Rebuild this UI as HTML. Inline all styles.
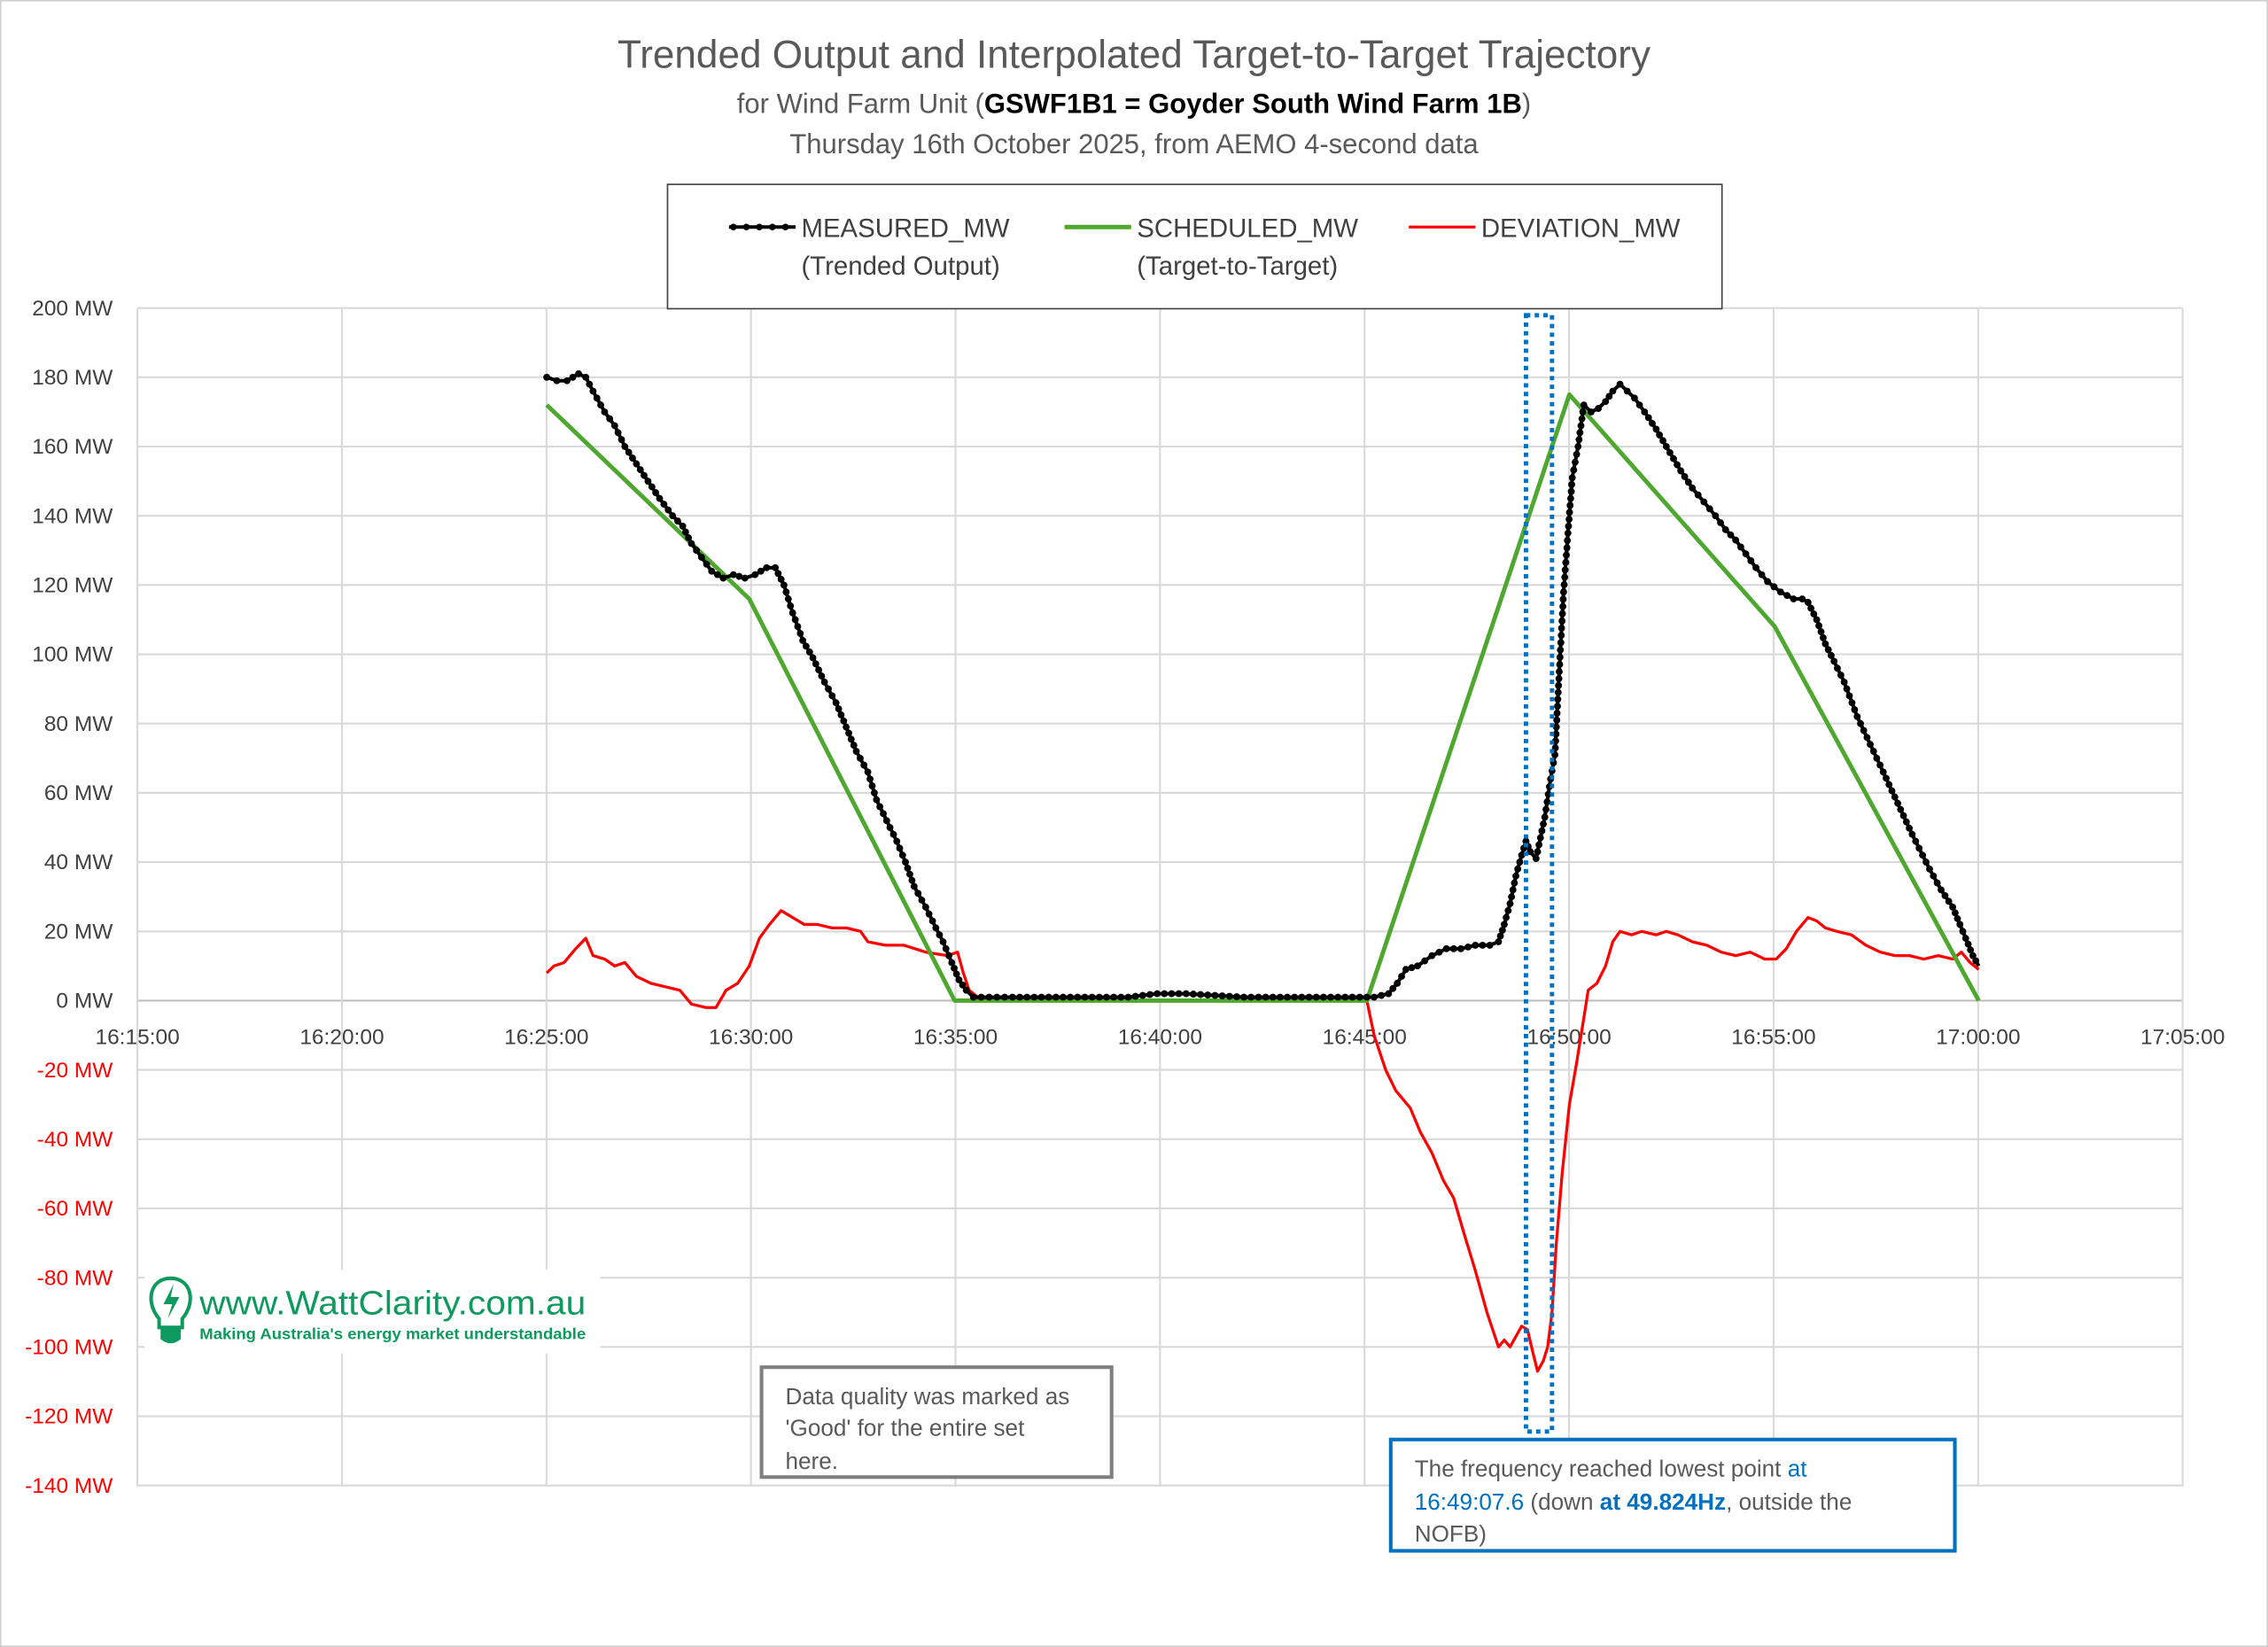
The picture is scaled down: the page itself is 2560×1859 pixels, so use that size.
<!DOCTYPE html>
<html><head><meta charset="utf-8"><style>
html,body{margin:0;padding:0;background:#fff}
svg{display:block}
text{font-family:"Liberation Sans",sans-serif}
</style></head><body>
<svg id="s" width="2560" height="1859" viewBox="0 0 1568 1139" preserveAspectRatio="none" xmlns="http://www.w3.org/2000/svg">
<rect x="0.5" y="0.5" width="1567" height="1138" fill="#fff" stroke="#d0d0d0" stroke-width="1"/>
<g id="grid" stroke="#d9d9d9" stroke-width="1.3"></g>
<g id="labels" font-size="15" fill="#404040"></g>
<text x="784" y="47" text-anchor="middle" font-size="27" fill="#595959">Trended Output and Interpolated Target-to-Target Trajectory</text>
<text x="784" y="78" text-anchor="middle" font-size="19" fill="#595959">for Wind Farm Unit (<tspan font-weight="bold" fill="#000">GSWF1B1 = Goyder South Wind Farm 1B</tspan>)</text>
<text x="784" y="106" text-anchor="middle" font-size="19" fill="#595959">Thursday 16th October 2025, from AEMO 4-second data</text>
<rect x="461.5" y="127.5" width="729" height="86" fill="#fff" stroke="#404040" stroke-width="1"/>
<line x1="504" y1="157" x2="550" y2="157" stroke="#000" stroke-width="2.5"/>
<circle cx="507" cy="157" r="2.3"/><circle cx="516" cy="157" r="2.3"/><circle cx="525" cy="157" r="2.3"/><circle cx="534" cy="157" r="2.3"/><circle cx="543" cy="157" r="2.3"/>
<text x="554" y="164" font-size="18" fill="#404040">MEASURED_MW</text>
<text x="554" y="190" font-size="18" fill="#404040">(Trended Output)</text>
<line x1="736" y1="157" x2="782" y2="157" stroke="#4ea72e" stroke-width="3"/>
<text x="786" y="164" font-size="18" fill="#404040">SCHEDULED_MW</text>
<text x="786" y="190" font-size="18" fill="#404040">(Target-to-Target)</text>
<line x1="974" y1="157" x2="1020" y2="157" stroke="#f00" stroke-width="2"/>
<text x="1024" y="164" font-size="18" fill="#404040">DEVIATION_MW</text>
<rect x="100" y="878" width="315" height="58" fill="#fff"/>
<g fill="none" stroke="#0e9a5e" stroke-width="2.5">
<path d="M110 912 C100 900,104 884,118 884 C132 884,136 900,126 912 L126 918 L110 918 Z"/>
</g>
<path d="M111 918 L125 918 L125 926 Q118 932 111 926 Z" fill="#0e9a5e"/>
<path d="M120 888 L113 902 L119 902 L116 912 L124 897 L118 897 Z" fill="#0e9a5e"/>
<text x="138" y="909" font-size="23" fill="#0e9a5e" textLength="267" lengthAdjust="spacingAndGlyphs">www.WattClarity.com.au</text>
<text x="138" y="926" font-size="11" font-weight="bold" fill="#0e9a5e" textLength="267" lengthAdjust="spacingAndGlyphs">Making Australia's energy market understandable</text>
<g id="series"></g>
<rect x="1055" y="218" width="18" height="772" fill="none" stroke="#0070c0" stroke-width="3" stroke-dasharray="3,3"/>
<rect x="526.5" y="945.5" width="242" height="76" fill="#fff" stroke="#7f7f7f" stroke-width="2.5"/>
<text font-size="16" fill="#595959"><tspan x="543" y="971">Data quality was marked as</tspan><tspan x="543" y="993">'Good' for the entire set</tspan><tspan x="543" y="1016">here.</tspan></text>
<rect x="961.5" y="995.5" width="390" height="77" fill="#fff" stroke="#0070c0" stroke-width="2.5"/>
<text font-size="16" fill="#595959"><tspan x="978" y="1021">The frequency reached lowest point <tspan fill="#0070c0">at</tspan></tspan><tspan x="978" y="1044"><tspan fill="#0070c0">16:49:07.6</tspan> (down <tspan fill="#0070c0" font-weight="bold">at 49.824Hz</tspan>, outside the</tspan><tspan x="978" y="1066">NOFB)</tspan></text>
</svg>
<script>
const NS="http://www.w3.org/2000/svg";
const X=m=>95+m*28.28, Y=v=>692-v*2.395;
const g=document.getElementById('grid'),lb=document.getElementById('labels'),se=document.getElementById('series');
function el(p,t,a,txt){const e=document.createElementNS(NS,t);for(const k in a)e.setAttribute(k,a[k]);if(txt!=null)e.textContent=txt;p.appendChild(e);return e;}
for(let v=-140;v<=200;v+=20){el(g,'line',{x1:95,x2:1509,y1:Y(v),y2:Y(v),stroke:v==0?'#bfbfbf':'#d9d9d9'});
 el(lb,'text',{x:78,y:Y(v)+5,'text-anchor':'end',fill:v<0?'#ff0000':'#404040'},v+' MW');}
const tl=['16:15:00','16:20:00','16:25:00','16:30:00','16:35:00','16:40:00','16:45:00','16:50:00','16:55:00','17:00:00','17:05:00'];
tl.forEach((t,i)=>{el(g,'line',{x1:X(i*5),x2:X(i*5),y1:213,y2:1028});el(lb,'text',{x:X(i*5),y:722,'text-anchor':'middle'},t);});
function path(pts,attrs){el(se,'polyline',Object.assign({points:pts.map(p=>p[0]+','+Y(p[1])).join(' '),fill:'none','stroke-linejoin':'round'},attrs));}
const dev=[[378,8],[383,10],[390,11],[398,15],[405,18],[410,13],[418,12],[425,10],[432,11],[440,7],[450,5],[460,4],[470,3],[478,-1],[488,-2],[495,-2],[502,3],[510,5],[518,10],[525,18],[532,22],[540,26],[548,24],[556,22],[565,22],[575,21],[585,21],[595,20],[600,17],[612,16],[625,16],[640,14],[655,13],[662,14],[666,8],[670,3],[676,1],[700,0],[800,0],[900,0],[945,0],[950,-10],[958,-20],[965,-26],[975,-31],[982,-38],[990,-44],[998,-52],[1005,-57],[1012,-67],[1020,-78],[1028,-90],[1036,-100],[1040,-98],[1044,-100],[1048,-97],[1052,-94],[1056,-95],[1060,-102],[1063,-107],[1067,-104],[1070,-100],[1073,-90],[1076,-70],[1080,-50],[1085,-30],[1090,-18],[1095,-5],[1098,3],[1104,5],[1110,10],[1115,17],[1120,20],[1128,19],[1135,20],[1145,19],[1152,20],[1160,19],[1170,17],[1180,16],[1190,14],[1200,13],[1210,14],[1220,12],[1228,12],[1235,15],[1242,20],[1250,24],[1256,23],[1262,21],[1270,20],[1280,19],[1290,16],[1300,14],[1310,13],[1320,13],[1330,12],[1340,13],[1350,12],[1356,14],[1362,11],[1368,9]];
path(dev,{stroke:'#ff0000','stroke-width':2});
const sch=[[378,172],[518,116],[660,0],[945,0],[1085,175],[1227,108],[1368,0]];
path(sch,{stroke:'#4ea72e','stroke-width':3});
const mea=[[378,180],[385,179],[392,179],[400,181],[405,180],[410,176],[418,170],[425,166],[432,160],[440,155],[448,150],[456,145],[465,140],[472,137],[478,132],[485,128],[492,124],[500,122],[507,123],[515,122],[522,123],[530,125],[536,125],[542,120],[548,112],[555,104],[562,99],[570,92],[578,86],[585,79],[592,72],[600,66],[606,58],[613,52],[620,46],[626,40],[632,33],[640,27],[647,21],[652,17],[658,11],[663,6],[668,3],[673,1],[700,1],[740,1],[780,1],[800,2],[820,2],[860,1],[900,1],[945,1],[950,1],[960,2],[966,5],[972,9],[980,10],[990,13],[1000,15],[1010,15],[1020,16],[1030,16],[1036,17],[1040,22],[1044,28],[1048,36],[1052,42],[1055,46],[1058,43],[1062,41],[1065,47],[1068,53],[1072,64],[1075,71],[1078,95],[1081,118],[1084,135],[1087,151],[1091,160],[1095,172],[1100,170],[1105,171],[1110,173],[1115,176],[1120,178],[1125,176],[1130,174],[1137,170],[1145,165],[1152,160],[1162,153],[1170,148],[1178,144],[1186,140],[1193,136],[1200,133],[1207,129],[1214,125],[1222,121],[1231,118],[1240,116],[1246,116],[1250,115],[1256,110],[1262,103],[1268,98],[1275,92],[1284,82],[1293,74],[1302,66],[1312,57],[1322,48],[1334,38],[1342,32],[1350,27],[1355,22],[1359,18],[1364,13],[1368,10]];
path(mea,{stroke:'#000','stroke-width':2.5});
let dots='';
for(let i=0;i<mea.length-1;i++){const [x1,v1]=mea[i],[x2,v2]=mea[i+1];const dx=x2-x1,dy=Y(v2)-Y(v1);const L=Math.hypot(dx,dy);const n=Math.max(1,Math.round(L/5));
 for(let k=0;k<n;k++){const t=k/n;dots+=`<circle cx="${(x1+dx*t).toFixed(1)}" cy="${(Y(v1)+dy*t).toFixed(1)}" r="2.4"/>`;}}
se.insertAdjacentHTML('beforeend','<g fill="#000">'+dots+'</g>');
</script>
</body></html>
